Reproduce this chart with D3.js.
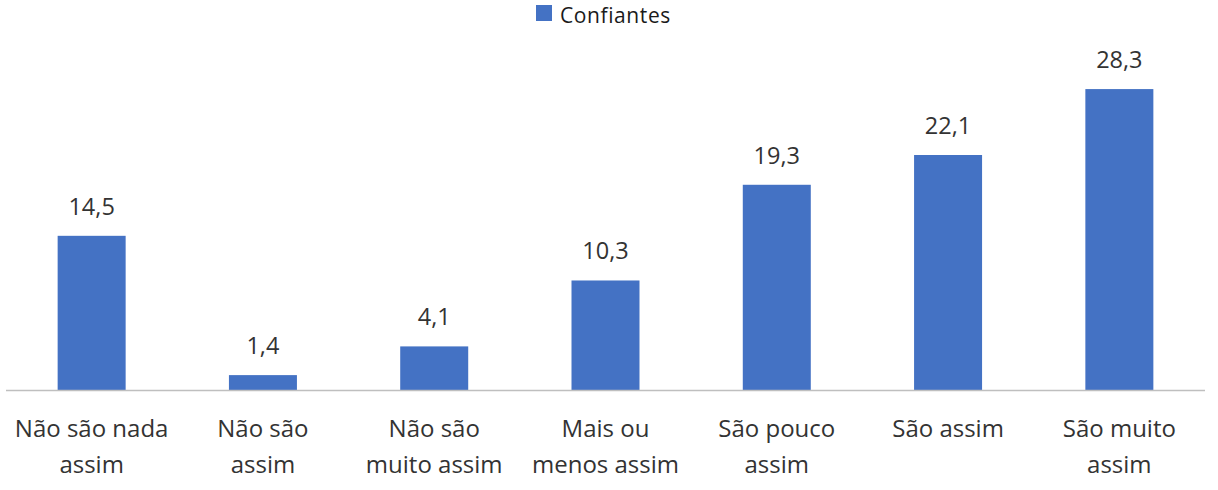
<!DOCTYPE html>
<html><head><meta charset="utf-8">
<script src="https://cdn.jsdelivr.net/npm/d3@7"></script>
<style>body{margin:0;background:#fff}</style>
</head><body>
<svg id="c" width="1218" height="490"></svg>
<script>
const categories = [["Não são nada","assim"],["Não são","assim"],["Não são","muito assim"],["Mais ou","menos assim"],["São pouco","assim"],["São assim"],["São muito","assim"]];
const values = [14.5, 1.4, 4.1, 10.3, 19.3, 22.1, 28.3];
const seriesName = "Confiantes";

const svg = d3.select("#c");
const font = "'Open Sans', sans-serif";
const x = d3.scaleBand().domain(d3.range(values.length)).range([6, 1205]).paddingInner(0.603).paddingOuter(0.3015);
const y = d3.scaleLinear().domain([0, 30]).range([390, 390 - 319]);

svg.selectAll("rect.bar").data(values).join("rect").attr("class","bar")
  .attr("x",(d,i)=>x(i)).attr("width",x.bandwidth())
  .attr("y",d=>y(d)).attr("height",d=>y(0)-y(d)).attr("fill","#4472C4");

svg.append("line").attr("x1",6).attr("x2",1205).attr("y1",y(0)+0.5).attr("y2",y(0)+0.5).attr("stroke","#BFBFBF").attr("stroke-width",1.3);

svg.selectAll("text.val").data(values).join("text").attr("class","val")
  .attr("x",(d,i)=>x(i)+x.bandwidth()/2).attr("y",d=>y(d)-21)
  .attr("text-anchor","middle").attr("font-family",font).attr("font-size",23.5).attr("fill","#333")
  .text(d=>d.toString().replace(".",","));

const cat = svg.selectAll("text.cat").data(categories).join("text").attr("class","cat")
  .attr("x",(d,i)=>x(i)+x.bandwidth()/2).attr("y",437)
  .attr("text-anchor","middle").attr("font-family",font).attr("font-size",24).attr("fill","#333");
cat.selectAll("tspan").data(d=>d).join("tspan")
  .attr("x",function(){return this.parentNode.getAttribute("x");})
  .attr("dy",(d,i)=>i===0?0:36).text(d=>d);

svg.append("rect").attr("x",536).attr("y",5).attr("width",16).attr("height",16).attr("fill","#4472C4");
svg.append("text").attr("x",560).attr("y",22.5).attr("font-family",font).attr("font-size",21)
  .attr("letter-spacing",0.6).attr("fill","#1a1a1a").text(seriesName);
</script>
</body></html>
